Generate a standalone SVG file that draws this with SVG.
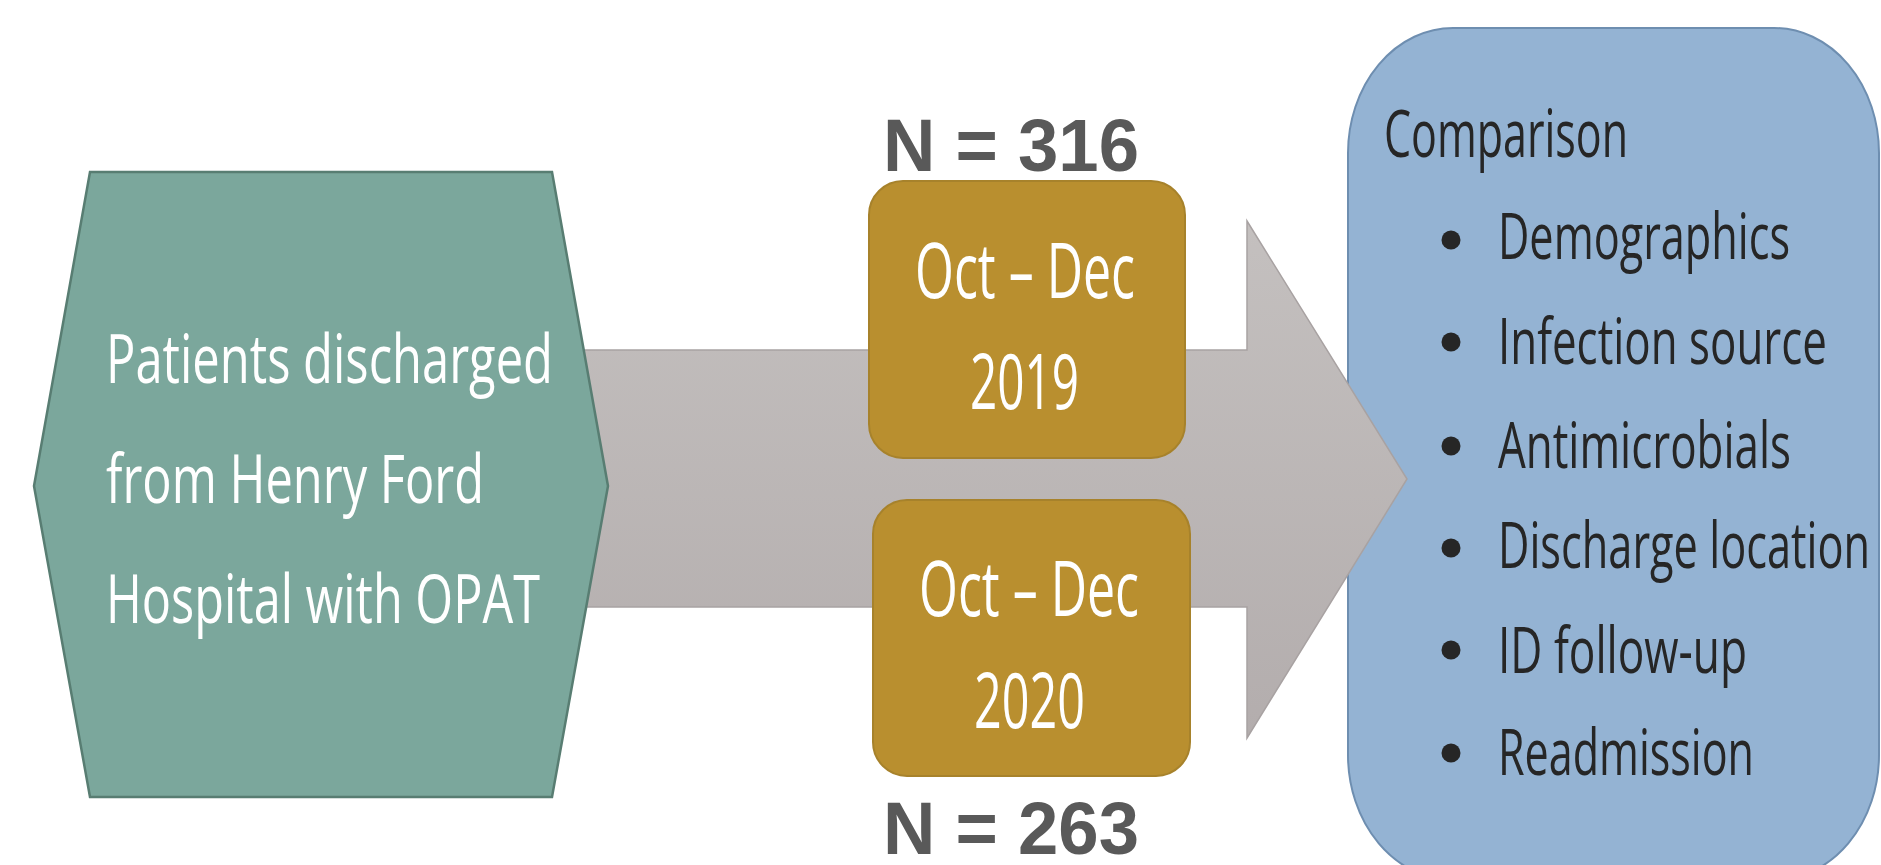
<svg xmlns="http://www.w3.org/2000/svg" width="1881" height="865" viewBox="0 0 1881 865">
<defs>
<linearGradient id="arrowGrad" x1="0" y1="0" x2="0" y2="1">
<stop offset="0" stop-color="#c4c0bf"/>
<stop offset="1" stop-color="#b3adad"/>
</linearGradient>
<style>
.lbl{font-family:"Open Sans","Liberation Sans",sans-serif;}
.white{fill:#ffffff;}
.dark{fill:#262626;}
.num{font-family:"Liberation Sans",Arial,sans-serif;font-weight:bold;font-size:74px;fill:#595959;}
.gold{fill:#b98f2f;stroke:#a7822b;stroke-width:2;}
</style>
</defs>
<rect width="1881" height="865" fill="#ffffff"/>

<g id="comparison">
<rect x="1348" y="28" width="531" height="852" rx="105" ry="125" fill="#94b3d3" stroke="#6e8eb0" stroke-width="2"/>
<text class="lbl dark" x="1384" y="157" font-size="66" textLength="244" lengthAdjust="spacingAndGlyphs">Comparison</text>
<g class="dark">
<circle cx="1451" cy="240" r="9.5"/>
<circle cx="1451" cy="342" r="9.5"/>
<circle cx="1451" cy="446" r="9.5"/>
<circle cx="1451" cy="548" r="9.5"/>
<circle cx="1451" cy="650" r="9.5"/>
<circle cx="1451" cy="753" r="9.5"/>
</g>
<text class="lbl dark" x="1498" y="259" font-size="64" textLength="292" lengthAdjust="spacingAndGlyphs">Demographics</text>
<text class="lbl dark" x="1498" y="364" font-size="64" textLength="329" lengthAdjust="spacingAndGlyphs">Infection source</text>
<text class="lbl dark" x="1498" y="468" font-size="64" textLength="293" lengthAdjust="spacingAndGlyphs">Antimicrobials</text>
<text class="lbl dark" x="1498" y="568" font-size="64" textLength="372" lengthAdjust="spacingAndGlyphs">Discharge location</text>
<text class="lbl dark" x="1498" y="673" font-size="64" textLength="249" lengthAdjust="spacingAndGlyphs">ID follow-up</text>
<text class="lbl dark" x="1498" y="775" font-size="64" textLength="256" lengthAdjust="spacingAndGlyphs">Readmission</text>
</g>

<g id="connectors">
<path d="M570,350 L1247,350 L1247,221 L1407,479 L1247,738 L1247,607 L570,607 Z" fill="url(#arrowGrad)" stroke="#a8a2a2" stroke-width="1.5"/>
</g>

<g id="patients">
<polygon points="90,172 552,172 608,486 552,797 90,797 34,486" fill="#7ba79c" stroke="#587d72" stroke-width="2.5"/>
<text class="lbl white" x="106" y="383" font-size="67" textLength="447" lengthAdjust="spacingAndGlyphs">Patients discharged</text>
<text class="lbl white" x="106" y="503" font-size="67" textLength="378" lengthAdjust="spacingAndGlyphs">from Henry Ford</text>
<text class="lbl white" x="106" y="623" font-size="67" textLength="434" lengthAdjust="spacingAndGlyphs">Hospital with OPAT</text>
</g>

<g id="period2019">
<rect class="gold" x="869" y="181" width="316" height="277" rx="34" ry="34"/>
<text class="lbl white" x="915" y="298" font-size="77" textLength="220" lengthAdjust="spacingAndGlyphs">Oct – Dec</text>
<text class="lbl white" x="970" y="409" font-size="77" textLength="109" lengthAdjust="spacingAndGlyphs">2019</text>
</g>

<g id="period2020">
<rect class="gold" x="873" y="500" width="317" height="276" rx="34" ry="34"/>
<text class="lbl white" x="919" y="616" font-size="77" textLength="220" lengthAdjust="spacingAndGlyphs">Oct – Dec</text>
<text class="lbl white" x="974" y="728" font-size="77" textLength="111" lengthAdjust="spacingAndGlyphs">2020</text>
</g>

<g id="n2019">
<text class="num" x="883" y="171" textLength="256" lengthAdjust="spacingAndGlyphs">N = 316</text>
</g>
<g id="n2020">
<text class="num" x="883" y="854" textLength="256" lengthAdjust="spacingAndGlyphs">N = 263</text>
</g>
</svg>
